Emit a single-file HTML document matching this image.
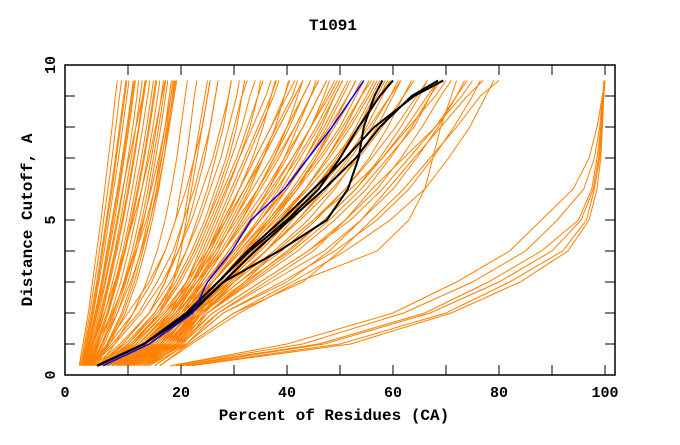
<!DOCTYPE html>
<html><head><meta charset="utf-8"><style>
body{margin:0;background:#fff}
svg text{font-family:"Liberation Mono",monospace;font-weight:bold;font-size:15px;fill:#000}
</style></head><body>
<svg id="chart" width="680" height="440" viewBox="0 0 680 440" xmlns="http://www.w3.org/2000/svg">
<rect width="680" height="440" fill="#fff"/>
<text x="333" y="30" text-anchor="middle" style="font-size:16px">T1091</text>
<g id="series"></g>
<rect x="65" y="65" width="550" height="310" fill="none" stroke="#000" stroke-width="1.5"/>
<g id="ticks" stroke="#000" stroke-width="1"></g>
<g id="labels"></g>
<text x="334" y="420" text-anchor="middle" style="font-size:16px">Percent of Residues (CA)</text>
<text x="32" y="220" text-anchor="middle" transform="rotate(-90 32 220)" style="font-size:16px">Distance Cutoff, A</text>
</svg>
<script>
const cutoffs=[0.3,1,2,3,4,5,6,7,8,9,9.5];
const xTicks=[0,10,20,30,40,50,60,70,80,90,100];
const xTickLabels=["0","20","40","60","80","100"];
const yTicks=[0,1,2,3,4,5,6,7,8,9,10];
const yTickLabels=["0","5","10"];
const orangeSeries=[
[0.8,1.5,2.5,3.3,4.1,4.9,5.6,6.3,7,7.6,8],
[1,1.8,2.8,3.7,4.6,5.4,6.2,7,7.7,8.4,8.8],
[1.2,2,3.1,4.1,5,5.9,6.8,7.6,8.4,9.2,9.6],
[1.5,2.3,3.5,4.5,5.5,6.4,7.3,8.2,9,9.8,10.2],
[1.5,2.5,3.8,5,6,7,8,8.9,9.8,10.6,11],
[2,2.8,4.1,5.3,6.4,7.5,8.4,9.3,10.2,11,11.4],
[2,3,4.5,5.8,7,8.1,9.1,10,10.9,11.7,12],
[2.2,3.2,4.8,6.2,7.5,8.6,9.6,10.6,11.5,12.3,12.7],
[2.5,3.5,5.2,6.6,7.9,9.1,10.2,11.2,12.1,13,13.4],
[2.5,3.8,5.6,7.1,8.5,9.7,10.8,11.8,12.8,13.7,14.1],
[2.7,4,6,7.6,9,10.3,11.4,12.5,13.5,14.4,14.8],
[3,4.3,6.3,8,9.5,10.8,12,13.1,14.1,15,15.4],
[3,4.6,6.8,8.6,10.1,11.4,12.6,13.7,14.7,15.6,16],
[3.2,5,7.3,9.2,10.8,12.1,13.3,14.4,15.4,16.3,16.7],
[3.5,5.5,8,10,11.6,13,14.2,15.2,16.2,17.1,17.5],
[3.5,6,8.8,10.8,12.4,13.8,15,16,17,17.8,18.2],
[4,6.5,9.5,11.6,13.2,14.6,15.8,16.8,17.6,18.4,18.8],
[2,3.5,5.5,7.5,9.3,11,12.6,14,15.2,16.4,17],
[2.5,4.5,7.2,9.3,11.2,12.9,14.4,15.8,17,18.1,18.6],
[1.8,2.8,4.2,5.6,6.8,7.9,9,10.2,11.5,12.8,13.5],
[3,5,8,10.5,12.5,14.2,15.6,16.8,17.8,18.7,19.2],
[4.5,7.5,11,13.5,15.5,17,18.2,19.2,20,20.8,21.2],
[1.3,2.2,3.3,4.3,5.2,6.1,7,7.8,8.6,9.4,9.8],
[1.7,2.6,3.9,5.1,6.2,7.2,8.2,9.1,10,10.8,11.2],
[2.3,3.4,5,6.4,7.7,8.9,10,11,12,12.8,13.2],
[2.8,4.2,6.2,7.8,9.3,10.6,11.8,12.9,13.9,14.8,15.2],
[3.3,5.2,7.6,9.6,11.2,12.6,13.8,14.8,15.8,16.7,17.1],
[3.8,6.2,9.1,11.2,12.8,14.2,15.4,16.4,17.3,18.1,18.5],
[2,4,7,9.5,11.5,13.5,15,16.3,17.5,18.5,19],
[6,11,16,18.5,20,21,22,23,24,25,25.5],
[5,9,14,17,19,20.5,21.5,22.5,23.5,24.5,25],
[3,6,10,14,17,19,20,21,21.8,22.5,23],
[4,9,14,17,19.5,21.5,23,24.5,25.5,26.5,27],
[4.5,10,15,18.5,21,23,25,26.5,28,29,29.5],
[5,11,16,19.5,22.5,25,27,29,30.5,31.5,32],
[5,11.5,17,21,24,26.5,28.8,31,33,34.5,35],
[5.5,12,18,22,25.5,28.5,31,33.5,35.5,37,37.8],
[6,13,19,23,27,30,33,35.5,37.8,39.5,40.3],
[6,13.5,19.5,24,28,31.5,34.5,37.5,40,42,43],
[6.5,14,20,24.5,29,33,36.5,39.5,42,44.5,45.5],
[7,14.5,20.5,25,30,34.5,38.5,41.5,44.5,47,48],
[7,15,21,26,31,36,40,43.5,46.5,49,50.5],
[7.5,15.5,21.5,27,32.5,37.5,42,45.5,48.5,51.5,53],
[8,16,22,28,34,39,43.5,47.5,51,54,55.5],
[8,16.5,22,28.5,35,40.5,45.5,49.5,53,56,57.5],
[8.5,17,22.5,29,36,42,47,51.5,55,58,59.5],
[9,17.5,23,30,37.5,44,49,53,57,60,61.5],
[9.5,18,23.5,31,39,45.5,51,55.5,59,62,63.5],
[10,18.5,24,32,40.5,47,53,57.5,61.5,65,66.5],
[10.5,19,25,33.5,42,49,55,59.5,63.5,67,69],
[11,19.5,26,35,44,51,57,61.5,65.5,69,71],
[12,20,27,37,47,54,60,64.5,68.5,72,73.5],
[13,21,28,39,49,57,63,67.5,71.5,75,76.5],
[14,21.5,30,41,51,59.5,66,70.5,74.5,77.5,79],
[6,12,18,21,23.5,26,28.5,31,33.5,36,37],
[7,13,19,22.5,25.5,28,31,34,37,40,41.5],
[8,15,20.5,23.5,27,30,33.5,37,40,43,44.5],
[9,16,21,24,28,32,36,39.5,43,46,47.5],
[10,17,21.5,25,29,33.5,38,42,45.5,48.5,50],
[11,18,22,25.5,30,35,40,44,47.5,50.5,52],
[12,19,22.5,26,31,36.5,41.5,46,50,53,54.5],
[13,19.5,23,27,32,38,43.5,48,52,55.5,57],
[14,20,23.5,28,33.5,39.5,45,50,54,57.5,59],
[12,19,24,30,36,41,46,50,53.5,56.5,58],
[11,18,23,28.5,34,39,43.5,47.5,51,54,55.5],
[10,17.5,22.5,27.5,32,36.5,41,45,48.5,51.5,53],
[9,16.5,21.5,26,30.5,35,39,42.5,46,49,50.5],
[8,15,20.5,25,29,33,36.5,40,43,46,47.5],
[7,14,19.5,23.5,27.5,31,34.5,37.5,40.5,43,44.5],
[6,13,18.5,22.5,26,29,32,35,38,41,42],
[5.5,12.5,18.5,22,25,27.5,30,32.5,35,37.5,38.5],
[6.5,13.5,19,23,26.5,29.5,32.5,35.5,38.5,41.5,43],
[7.5,14.5,20,24,28,31.5,35,38.5,41.5,44.5,46],
[8.5,15.5,21,25,29.5,33.5,37.5,41,44.5,47.5,49],
[9.5,16.5,21.5,26,30.5,35,39.5,43.5,47,50,51.5],
[10.5,17.5,22,27,32,37,41.5,45.5,49,52.5,54],
[11.5,18.5,23,28,33,38.5,43.5,47.5,51.5,55,56.5],
[12.5,19.5,24,29,34.5,40,45,49.5,53.5,57,58.5],
[13.5,20,24.5,30,36,42,47.5,52,56,59.5,61],
[6,12,17.5,21.5,24.5,27,29.5,32,34.5,37,38],
[7,13,18,22,25,28,31,34,37,39.5,40.5],
[4,9.5,15,19,22,24.5,26.5,28.5,30,31.5,32.5],
[3.5,8.5,14,18,21,23.5,25.5,27.5,29,30.5,31],
[4.5,10,15.5,19.5,22.5,25,27.5,29.5,31.5,33,34],
[5,10.5,16,20,23,25.5,28,30.5,32.5,34.5,35.5],
[3,7.5,12.5,16.5,19.5,22,24,26,27.5,29,29.5],
[3,7,12,15.5,18.5,20.5,22.5,24,25.5,26.5,27],
[2.5,6.5,11,14.5,17,19,21,22.5,24,25,25.5],
[9,16,22,28,34,40,46,51,55.5,59.5,61.5],
[10,17,23,29.5,36,42.5,48.5,53.5,58,62,64],
[11,18,24,31,38,45,51,56,60.5,64.5,66.5],
[12,19,25,32.5,40,47,53,58,62.5,66.5,68.5],
[8,15,21,27,33,38.5,44,49,53.5,57.5,59.5],
[7,14,20,26,31.5,37,42,46.5,50.5,54,56],
[6,13,19,24.5,30,35,40,44,48,51.5,53],
[5,12,18,23,28,32.5,37,41,44.5,48,49.5],
[4.5,11,17,22,26.5,30.5,34.5,38,41.5,44.5,46],
[4,10.5,16.5,21,25,28.5,32,35.5,38.5,41.5,43],
[12,19,25,32,38,45,52,58,63,68,70],
[14,20,26,35,44,52,58,63,68,72,74],
[15,21,28,40,48,54,59,64,69,74,77],
[16,21.5,30,43,50,56,62,67,72,76.5,80],
[16,22,31,42,57,63,66,67.5,69,71,72],
[15,21,27,36,45,51,56,62,68,73,75],
[13,20.5,25,33,41,48,54,59,64,67,68.5],
[18,40,60,72,82,88,94,97,98.5,99.5,100],
[18,43,62,75,85,91,96,98,99,99.5,100],
[19,46,66,78,88,95,97.5,98.5,99.2,99.6,100],
[20,47,67,80,90,95.5,97.8,98.8,99.3,99.6,99.8],
[21,50,70,82,92,96.5,98,99,99.4,99.7,99.9],
[22,52,71,84,93,97,98.5,99.2,99.5,99.8,100]
];
const blackSeries=[
[4.2,13,21,27,33,40,46,50,53.5,57.5,60],
[4.2,13,22,28,38.5,47.5,51.5,53.5,54.5,56.5,58],
[4.2,13,21.5,28,34,40.5,47,53,57.5,63.5,68.5],
[4.2,13,21,27,32.5,39,45,51,56.5,64,69.5]
];
const blueSeries=[5.3,14,22.2,25,29.6,33.2,39.5,44,48.5,52.5,54.5];

const NS="http://www.w3.org/2000/svg";
const xs=v=>75+v*5.3;
const ys=c=>375-c*31;
const g=document.getElementById('series');
function line(vals,color,w,name){
  const p=document.createElementNS(NS,'polyline');
  p.setAttribute('points',vals.map((v,i)=>xs(v).toFixed(1)+','+ys(cutoffs[i]).toFixed(1)).join(' '));
  p.setAttribute('fill','none');
  p.setAttribute('stroke',color);
  p.setAttribute('stroke-width',w);
  
  
  g.appendChild(p);
}
orangeSeries.forEach(s=>line(s,'#ff8000',1,'model-curve'));
blackSeries.forEach(s=>line(s,'#000',2,'highlight-curve'));
line(blueSeries,'#0000ff',1.5,'best-model-curve');

const tg=document.getElementById('ticks');
function tick(x1,y1,x2,y2){
  const l=document.createElementNS(NS,'line');
  l.setAttribute('x1',x1);l.setAttribute('y1',y1);l.setAttribute('x2',x2);l.setAttribute('y2',y2);
  
  
  tg.appendChild(l);
}
xTicks.forEach(t=>{if(t===0)return;const x=xs(t);tick(x,375,x,365);tick(x,65,x,75);});
yTicks.forEach(t=>{const y=ys(t);tick(65,y,75,y);tick(615,y,605,y);});

const lg=document.getElementById('labels');
xTickLabels.forEach(s=>{
  const v=+s;
  const t=document.createElementNS(NS,'text');
  t.setAttribute('x',v===0?65:xs(v));
  t.setAttribute('y',397);
  t.setAttribute('text-anchor','middle');
  t.textContent=s;
  
  
  lg.appendChild(t);
});
yTickLabels.forEach(s=>{
  const v=+s;
  const t=document.createElementNS(NS,'text');
  t.setAttribute('x',0);t.setAttribute('y',0);
  t.setAttribute('text-anchor','middle');
  t.setAttribute('transform','translate(55 '+ys(v)+') rotate(-90)');
  t.textContent=s;
  
  
  lg.appendChild(t);
});
</script>
</body></html>
